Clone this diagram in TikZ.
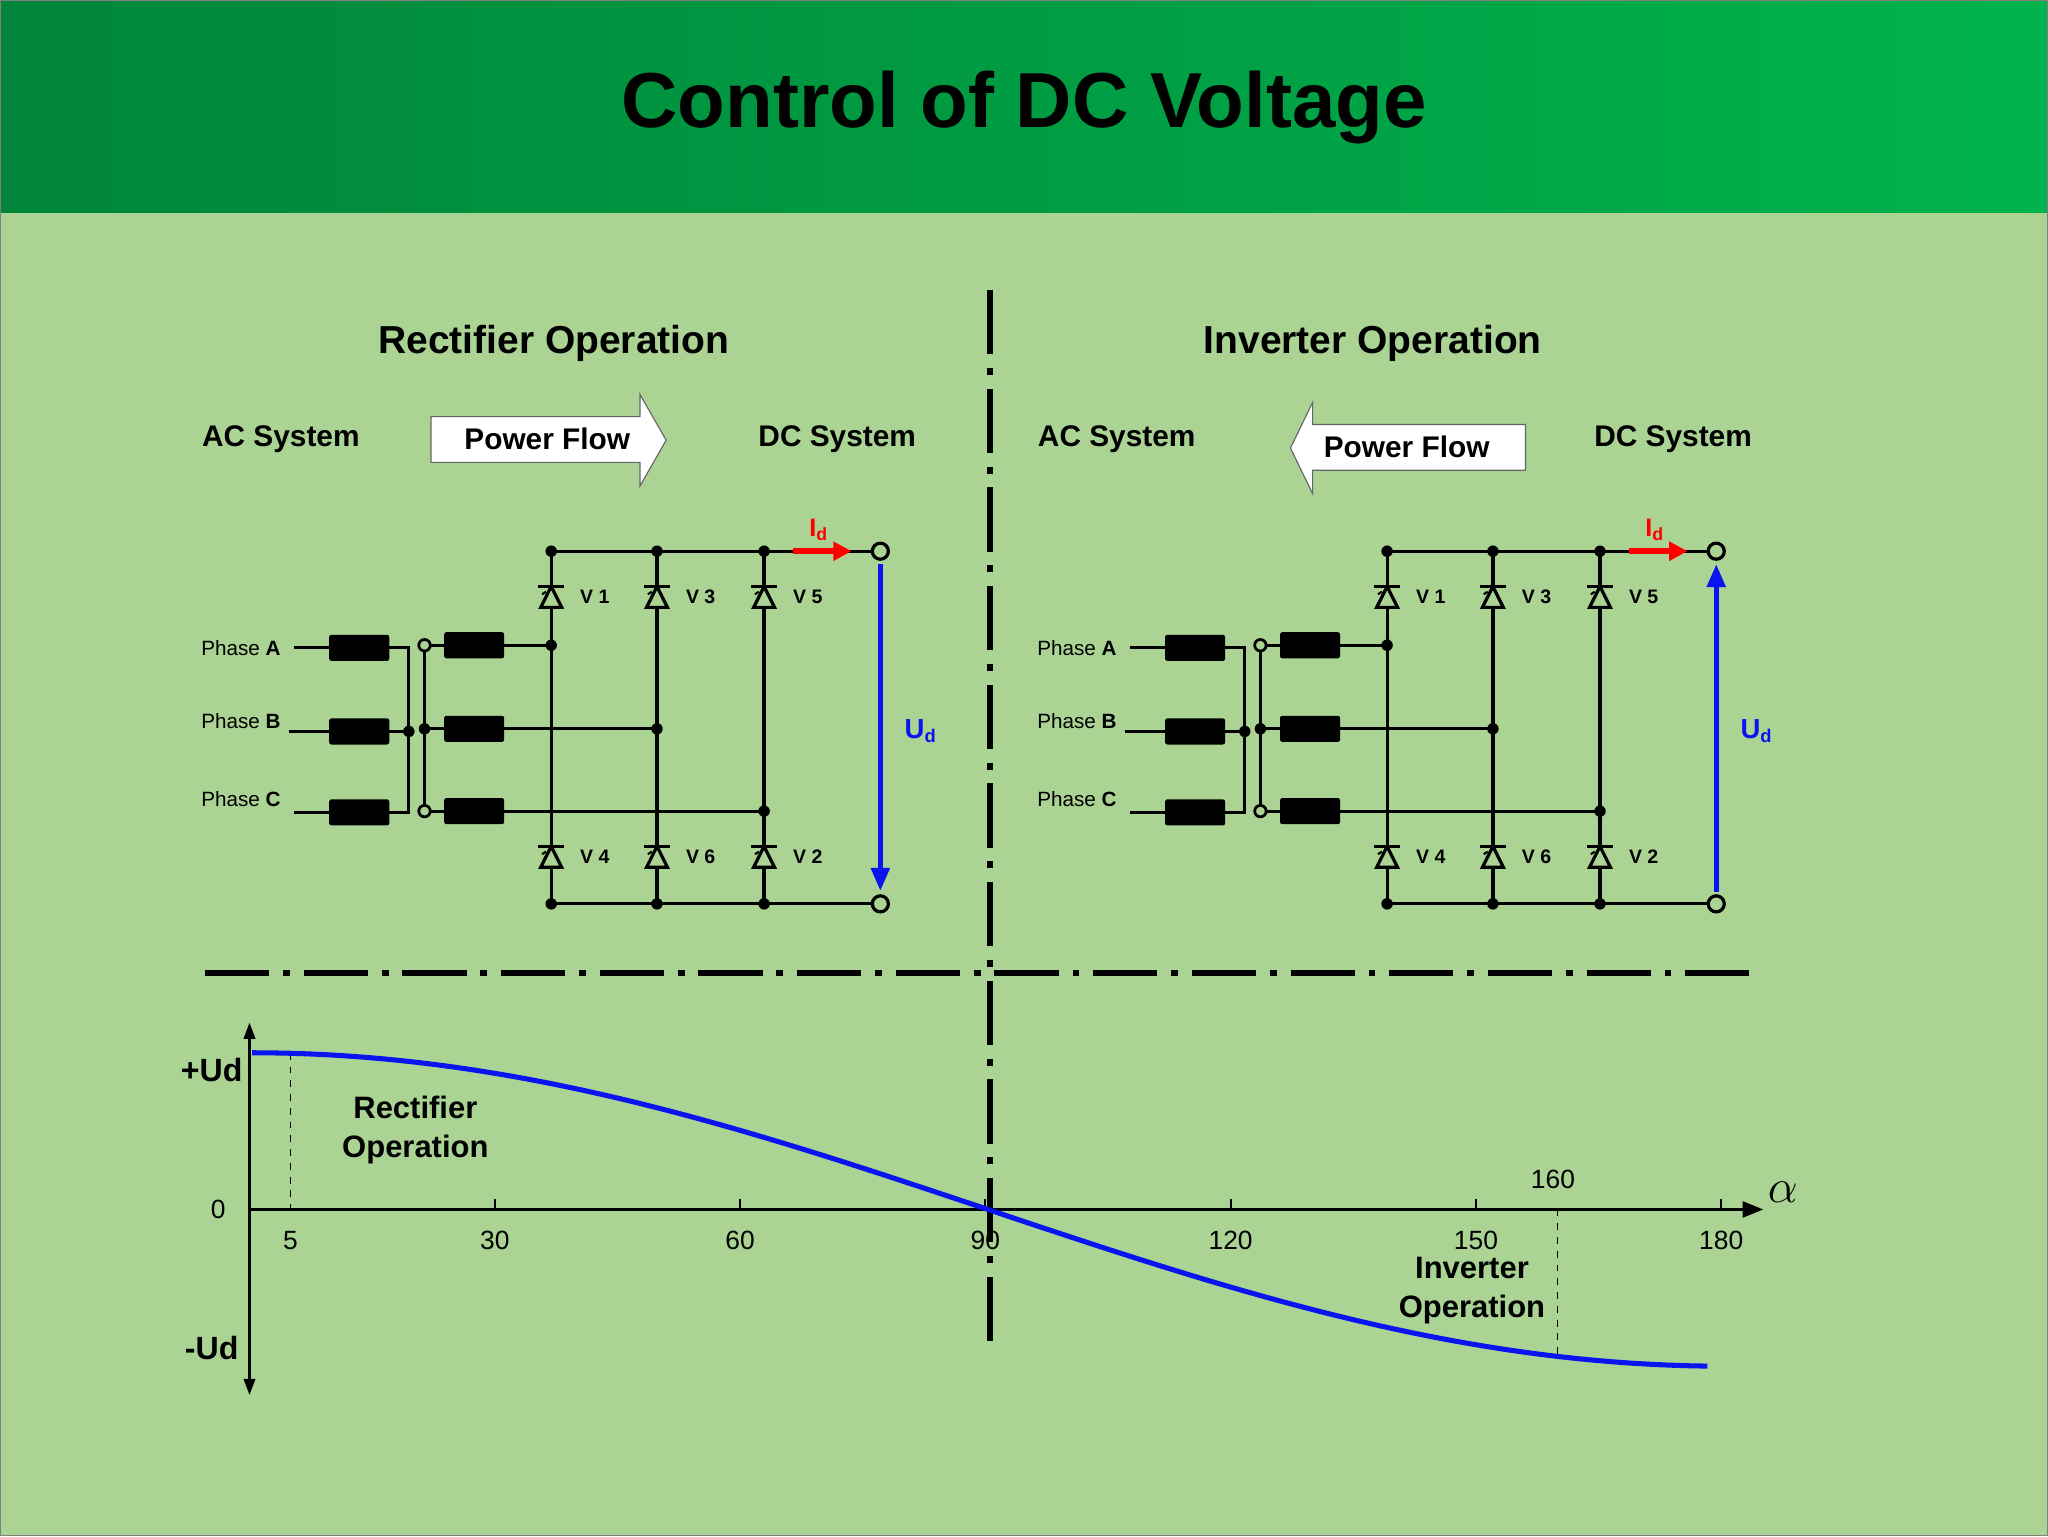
\documentclass[tikz,border=0pt]{standalone}
\usepackage{fontspec}
\setmainfont{Liberation Sans}
\usetikzlibrary{arrows.meta,shapes.arrows}
\definecolor{body}{HTML}{AAD394}
\definecolor{hdl}{HTML}{00853A}
\definecolor{hdr}{HTML}{00B34C}
\definecolor{bluec}{HTML}{0A14F0}
\begin{document}
\begin{tikzpicture}[x=0.02cm,y=-0.02cm,
  wire/.style={line width=1.4pt},
  ddash/.style={line width=2.4pt,dash pattern=on 28pt off 6pt on 3pt off 6pt},
  choke/.style={fill=black,rounded corners=1pt},
  dotj/.style={circle,fill=black,inner sep=0pt,minimum size=5pt},
  odot/.style={circle,draw,line width=1.2pt,fill=body,inner sep=0pt,minimum size=5pt},
  term/.style={circle,draw,line width=1.4pt,fill=body,inner sep=0pt,minimum size=7pt},
  lbl/.style={font=\bfseries\fontsize{13}{15}\selectfont},
  vl/.style={font=\bfseries\fontsize{8.5}{10}\selectfont,anchor=west},
  ph/.style={font=\fontsize{9}{10}\selectfont,anchor=east},
  num/.style={font=\fontsize{11.5}{13}\selectfont}]
\fill[body] (0,0) rectangle (1568,1176);
\shade[left color=hdl,right color=hdr] (0,0) rectangle (1568,163);
\draw[black!50,line width=0.6pt] (0.5,0.5) rectangle (1567.5,1175.5);
\node[font=\bfseries\fontsize{34}{36}\selectfont] (title) at (784,82) {Control of DC Voltage};
% separators
\coordinate (vt) at (758,222); \coordinate (vb) at (758,1032);
\coordinate (hl) at (157,745); \coordinate (hr) at (1345,745);
\draw[ddash] (vt) -- (vb);
\draw[ddash] (hl) -- (hr);
% headings
\node[font=\bfseries\fontsize{17}{20}\selectfont] (h1) at (424,263) {Rectifier Operation};
\node[font=\bfseries\fontsize{17}{20}\selectfont] (h2) at (1051,263) {Inverter Operation};
\node[lbl] (ac1) at (215,336) {AC System};
\node[lbl] (dc1) at (641,336) {DC System};
\node[lbl] (ac2) at (855,336) {AC System};
\node[lbl] (dc2) at (1281,336) {DC System};
\draw[fill=white,line width=0.5pt,draw=black!60] (330,319) -- (490,319) -- (490,302) -- (510,337) -- (490,372) -- (490,354) -- (330,354) -- cycle;
\node[lbl] (pf1) at (419,336) {Power Flow};
\draw[fill=white,line width=0.5pt,draw=black!60] (1168,325) -- (1005,325) -- (1005,308) -- (988,343) -- (1005,378) -- (1005,360) -- (1168,360) -- cycle;
\node[lbl] (pf2) at (1077,342) {Power Flow};
% circuits
\foreach \off/\dir in {0/0,640/1}{
\begin{scope}[shift={(\off,0)}]
 \draw[wire] (422,422) -- (674,422);
 \draw[wire] (422,692) -- (674,692);
 \foreach \cx in {422,503,585}{
   \draw[wire] (\cx,422) -- (\cx,692);
   \foreach \cy in {457,656}{
     \draw[wire,fill=body] (\cx-8,\cy+8) -- (\cx+8,\cy+8) -- (\cx,\cy-8) -- cycle;
     \draw[wire] (\cx-10,\cy-8) -- (\cx+10,\cy-8);
     \draw[line width=0.9pt] (\cx-4,\cy-4) -- (\cx-7,\cy-2);
   }
   \node[dotj] at (\cx,422) {}; \node[dotj] at (\cx,692) {};
 }
 \node[vl] at (438,457) {V 1}; \node[vl] at (519,457) {V 3}; \node[vl] at (601,457) {V 5};
 \node[vl] at (438,656) {V 4}; \node[vl] at (519,656) {V 6}; \node[vl] at (601,656) {V 2};
 \node[ph] at (221,496) {Phase \textbf{A}};
 \node[ph] at (221,552) {Phase \textbf{B}};
 \node[ph] at (221,612) {Phase \textbf{C}};
 \draw[wire] (225,496) -- (313,496) -- (313,622) -- (225,622);
 \draw[wire] (221,560) -- (313,560);
 \foreach \yy in {496,560,622}{\fill[choke] (252,\yy-10) rectangle (298,\yy+10);}
 \node[dotj] at (313,560) {};
 \draw[wire] (325,494) -- (325,622);
 \draw[wire] (325,494) -- (422,494);
 \draw[wire] (325,558) -- (503,558);
 \draw[wire] (325,621) -- (585,621);
 \foreach \yy in {494,558,621}{\fill[choke] (340,\yy-10) rectangle (386,\yy+10);}
 \node[odot] at (325,494) {}; \node[dotj] at (325,558) {}; \node[odot] at (325,621) {};
 \node[dotj] at (422,494) {}; \node[dotj] at (503,558) {}; \node[dotj] at (585,621) {};
 \node[term] (tp) at (674,422) {}; \node[term] (bm) at (674,692) {};
 \coordinate (ia) at (607,422); \coordinate (ib) at (652,422);
 \draw[red,line width=2.6pt,-{Triangle[length=8pt,width=8pt]}] (ia) -- (ib);
 \node[red,font=\bfseries\fontsize{11}{12}\selectfont] at (627,406) {I\textsubscript{d}};
 \node[bluec,font=\bfseries\fontsize{12}{13}\selectfont] at (705,560) {U\textsubscript{d}};
 \ifnum\dir=0
   \draw[bluec,line width=2pt,-{Triangle[length=10pt,width=8pt]}] (674,432) -- (674,682);
 \else
   \draw[bluec,line width=2pt,-{Triangle[length=10pt,width=8pt]}] (674,683) -- (674,432);
 \fi
\end{scope}}
% graph
\coordinate (yb) at (191,1068); \coordinate (yt) at (191,783);
\coordinate (x0) at (191,926); \coordinate (xe) at (1350,926);
\draw[line width=1pt,{Triangle[length=7pt,width=5pt]}-{Triangle[length=7pt,width=5pt]}] (yb) -- (yt);
\draw[line width=1pt,-{Triangle[length=9pt,width=7pt]}] (x0) -- (xe);
\foreach \a in {30,60,90,120,150,180}{\draw[line width=0.8pt] (191+6.26*\a,918) -- (191+6.26*\a,926);}
\foreach \a in {5,30,60,90,120,150,180}{\node[num] at (191+6.26*\a,950) {\a};}
\draw[dashed,line width=0.5pt] (222.3,806) -- (222.3,926);
\draw[dashed,line width=0.5pt] (1192.6,926) -- (1192.6,1040);
\node[num] at (1189,903) {160};
\node[font=\fontsize{22}{22}\selectfont] at (1365,913) {$\alpha$};
\node[num] at (167,926) {0};
\node[font=\bfseries\fontsize{14}{16}\selectfont] at (162,819) {+Ud};
\node[font=\bfseries\fontsize{14}{16}\selectfont] at (162,1032) {-Ud};
\node[font=\bfseries\fontsize{13.5}{17}\selectfont,align=center] at (318,865) {Rectifier\\Operation};
\node[font=\bfseries\fontsize{13.5}{17}\selectfont,align=center] at (1127,988) {Inverter\\Operation};
\draw[bluec,line width=2.2pt,domain=0:178,samples=80] plot ({193+6.26*\x},{926-120*cos(\x)});
\end{tikzpicture}
\end{document}
